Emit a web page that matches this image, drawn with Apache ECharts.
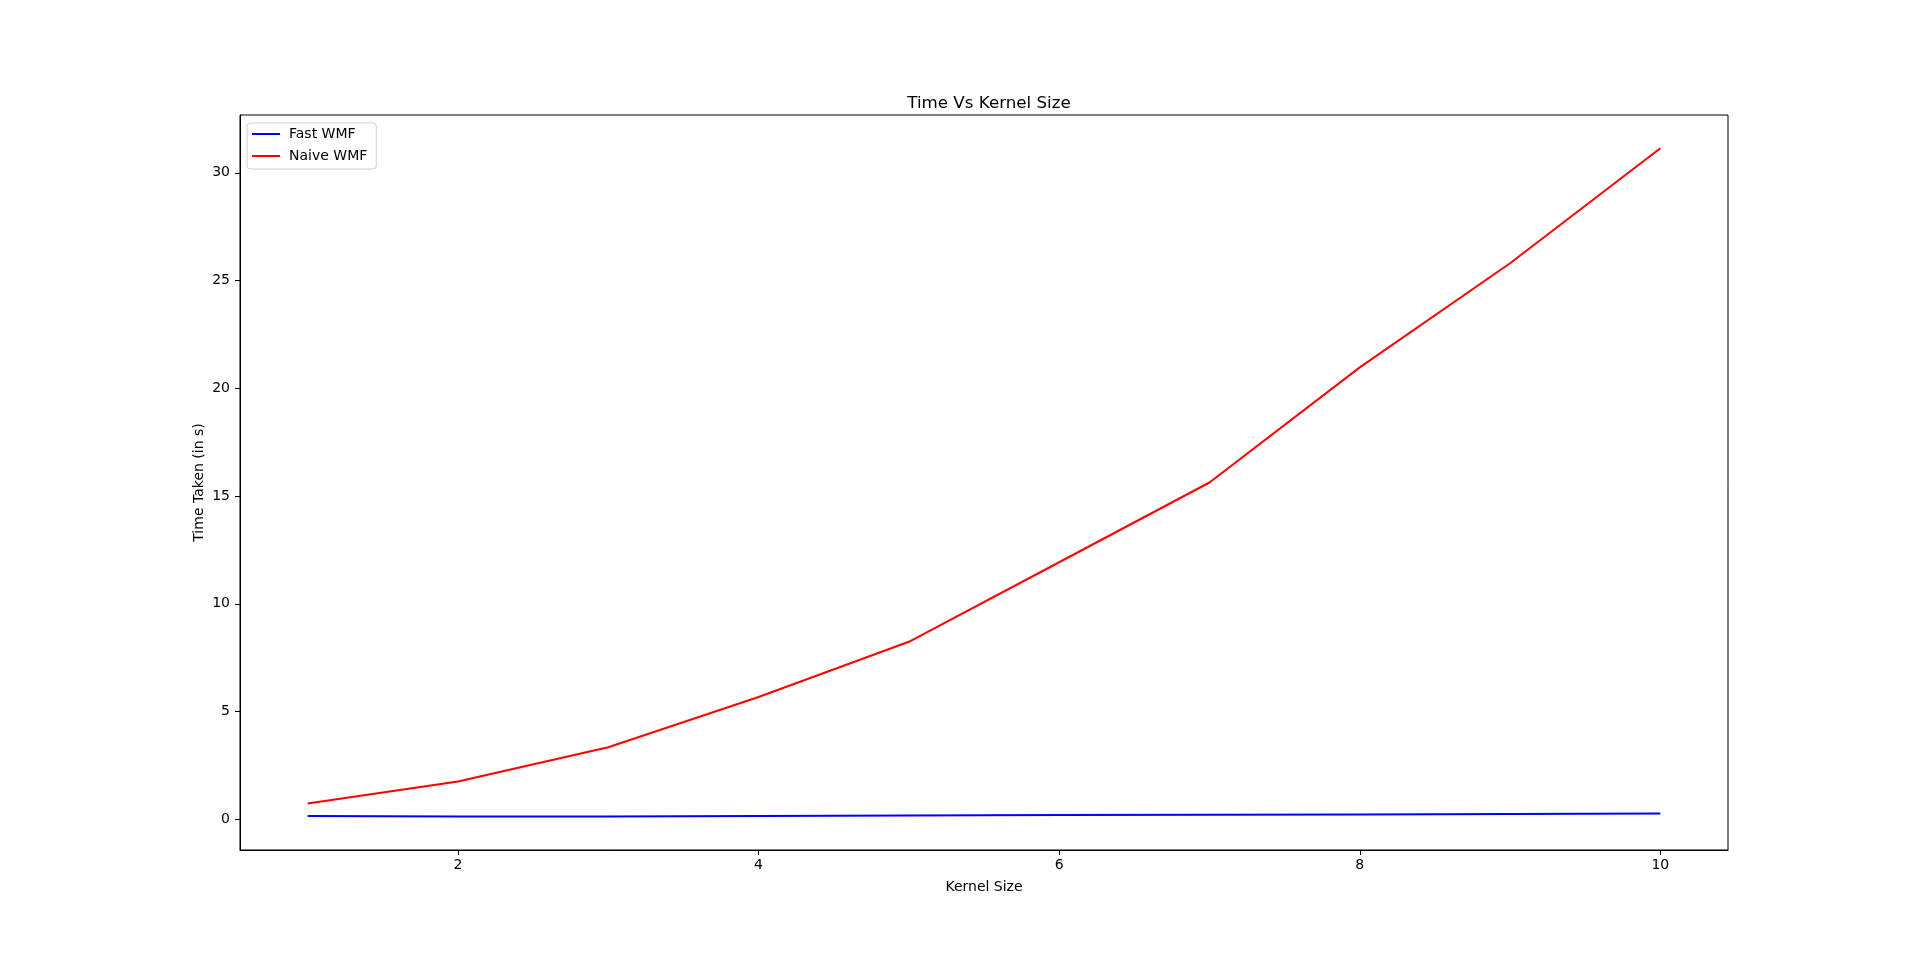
<!DOCTYPE html>
<html>
<head>
<meta charset="utf-8">
<script src="https://cdn.jsdelivr.net/npm/echarts@6/dist/echarts.min.js"></script>
<style>html,body{margin:0;padding:0;background:#fff;}#c{width:1920px;height:955px;}</style>
</head>
<body>
<div id="c"></div>
<script>
const kernelSizes = [1, 2, 3, 4, 5, 6, 7, 8, 9, 10];
const fastWMF = [0.16, 0.13, 0.14, 0.16, 0.18, 0.20, 0.22, 0.23, 0.25, 0.27];
const naiveWMF = [0.74, 1.76, 3.35, 5.68, 8.24, 11.93, 15.63, 20.97, 25.8, 31.14];
const xTicks = [2, 4, 6, 8, 10];
const yTicks = [0, 5, 10, 15, 20, 25, 30];

const font = 'DejaVu Sans';
const chart = echarts.init(document.getElementById('c'), null, {renderer: 'canvas'});
chart.setOption({
  animation: false,
  backgroundColor: '#fff',
  title: {
    text: 'Time Vs Kernel Size',
    left: 984, top: 90, textAlign: 'center',
    textStyle: {fontFamily: font, fontSize: 16.7, fontWeight: 'normal', color: '#000'}
  },
  legend: {
    left: 247, top: 123, orient: 'vertical',
    data: ['Fast WMF', 'Naive WMF'],
    icon: 'rect', itemWidth: 28, itemHeight: 2, itemGap: 8,
    padding: [4, 9, 6, 5],
    borderColor: '#d0d0d0', borderWidth: 1, borderRadius: 3,
    textStyle: {fontFamily: font, fontSize: 14, color: '#000', padding: [0, 0, 0, 4]}
  },
  grid: {left: 240, right: 192, top: 115, bottom: 105, show: true, borderColor: '#000', borderWidth: 1, containLabel: false},
  xAxis: {
    type: 'value', min: 0.55, max: 10.45,
    name: 'Kernel Size', nameLocation: 'middle', nameGap: 30, nameMoveOverlap: false,
    nameTextStyle: {fontFamily: font, fontSize: 14, color: '#000'},
    axisLine: {show: true, onZero: false, lineStyle: {color: '#000', width: 1}},
    axisTick: {show: true, length: 5, lineStyle: {color: '#000'}, customValues: xTicks},
    axisLabel: {fontFamily: font, fontSize: 14, color: '#000', margin: 8, customValues: xTicks},
    splitLine: {show: false}
  },
  yAxis: {
    type: 'value', min: -1.42, max: 32.68,
    name: 'Time Taken (in s)', nameLocation: 'middle', nameGap: 34, nameRotate: 90, nameMoveOverlap: false,
    nameTextStyle: {fontFamily: font, fontSize: 14, color: '#000'},
    axisLine: {show: true, onZero: false, lineStyle: {color: '#000', width: 1}},
    axisTick: {show: true, length: 5, lineStyle: {color: '#000'}, customValues: yTicks},
    axisLabel: {fontFamily: font, fontSize: 14, color: '#000', margin: 10, customValues: yTicks},
    splitLine: {show: false}
  },
  series: [
    {name: 'Fast WMF', type: 'line', data: kernelSizes.map((k, i) => [k, fastWMF[i]]),
     showSymbol: false, lineStyle: {color: '#0000ff', width: 2}, itemStyle: {color: '#0000ff'}},
    {name: 'Naive WMF', type: 'line', data: kernelSizes.map((k, i) => [k, naiveWMF[i]]),
     showSymbol: false, lineStyle: {color: '#ff0000', width: 2}, itemStyle: {color: '#ff0000'}}
  ]
});
</script>
</body>
</html>
